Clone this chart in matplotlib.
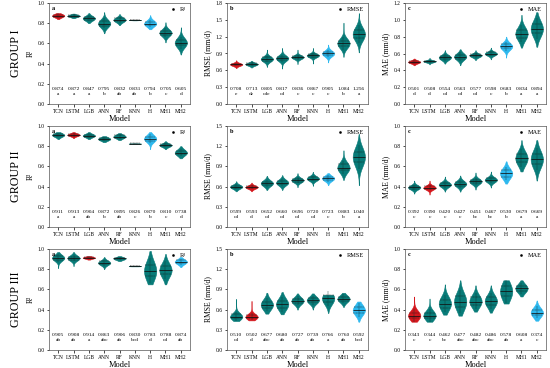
import numpy as np
import matplotlib.pyplot as plt
from matplotlib.lines import Line2D
from matplotlib.transforms import blended_transform_factory

plt.rcParams["font.family"] = ["Liberation Serif", "DejaVu Serif"]

MODELS = ["TCN", "LSTM", "LGB", "ANN", "RF", "KNN", "H", "MH1", "MH2"]
GROUPS = ["GROUP I", "GROUP II", "GROUP III"]

# Violin outline per model: (low tip, q1, median, q3, high tip)
R2_G1 = [(0.84, 0.865, 0.875, 0.885, 0.90), (0.85, 0.866, 0.873, 0.880, 0.895),
         (0.80, 0.835, 0.848, 0.862, 0.90), (0.70, 0.775, 0.797, 0.820, 0.91),
         (0.78, 0.820, 0.833, 0.847, 0.89), (0.828, 0.830, 0.831, 0.832, 0.834),
         (0.74, 0.780, 0.795, 0.815, 0.88), (0.61, 0.685, 0.705, 0.725, 0.81),
         (0.49, 0.580, 0.605, 0.635, 0.76)]
RMSE_G1 = [(0.64, 0.690, 0.705, 0.720, 0.78), (0.65, 0.695, 0.710, 0.725, 0.77),
           (0.66, 0.775, 0.800, 0.830, 0.97), (0.63, 0.785, 0.815, 0.845, 1.00),
           (0.71, 0.815, 0.835, 0.855, 0.97), (0.72, 0.845, 0.865, 0.885, 1.00),
           (0.74, 0.870, 0.900, 0.930, 1.06), (0.84, 1.030, 1.080, 1.130, 1.45),
           (0.92, 1.180, 1.240, 1.320, 1.62)]
MAE_G1 = [(0.46, 0.490, 0.500, 0.510, 0.54), (0.47, 0.500, 0.507, 0.515, 0.55),
          (0.48, 0.535, 0.553, 0.570, 0.64), (0.46, 0.540, 0.562, 0.585, 0.65),
          (0.52, 0.565, 0.577, 0.590, 0.64), (0.53, 0.585, 0.598, 0.612, 0.67),
          (0.55, 0.660, 0.685, 0.710, 0.80), (0.67, 0.790, 0.835, 0.880, 1.06),
          (0.68, 0.840, 0.890, 0.950, 1.09)]
R2_G2 = [(0.87, 0.900, 0.911, 0.922, 0.94), (0.88, 0.905, 0.913, 0.921, 0.94),
         (0.87, 0.895, 0.905, 0.915, 0.94), (0.84, 0.862, 0.872, 0.882, 0.90),
         (0.86, 0.885, 0.896, 0.907, 0.93), (0.824, 0.825, 0.826, 0.827, 0.828),
         (0.77, 0.855, 0.875, 0.895, 0.94), (0.77, 0.800, 0.810, 0.820, 0.85),
         (0.68, 0.720, 0.735, 0.755, 0.80)]
RMSE_G2 = [(0.53, 0.580, 0.598, 0.615, 0.68), (0.53, 0.578, 0.592, 0.607, 0.66),
           (0.55, 0.625, 0.650, 0.675, 0.76), (0.55, 0.635, 0.660, 0.685, 0.77),
           (0.59, 0.675, 0.695, 0.715, 0.80), (0.61, 0.700, 0.720, 0.740, 0.82),
           (0.62, 0.700, 0.722, 0.745, 0.80), (0.70, 0.840, 0.880, 0.930, 1.14),
           (0.62, 0.960, 1.040, 1.120, 1.38)]
MAE_G2 = [(0.33, 0.380, 0.392, 0.405, 0.46), (0.32, 0.378, 0.390, 0.402, 0.46),
          (0.35, 0.405, 0.420, 0.435, 0.50), (0.35, 0.410, 0.427, 0.445, 0.51),
          (0.37, 0.435, 0.451, 0.467, 0.54), (0.39, 0.452, 0.467, 0.482, 0.55),
          (0.43, 0.500, 0.530, 0.560, 0.65), (0.55, 0.640, 0.679, 0.720, 0.86),
          (0.46, 0.620, 0.669, 0.720, 0.86)]
R2_G3 = [(0.81, 0.895, 0.912, 0.930, 0.97), (0.83, 0.895, 0.910, 0.925, 0.97),
         (0.895, 0.908, 0.914, 0.920, 0.93), (0.80, 0.850, 0.863, 0.877, 0.92),
         (0.88, 0.898, 0.906, 0.914, 0.93), (0.828, 0.829, 0.830, 0.831, 0.832),
         (0.65, 0.730, 0.780, 0.840, 0.98), (0.65, 0.750, 0.790, 0.830, 0.95),
         (0.82, 0.860, 0.874, 0.888, 0.92)]
RMSE_G3 = [(0.43, 0.470, 0.490, 0.530, 0.76), (0.44, 0.470, 0.490, 0.520, 0.73),
           (0.54, 0.630, 0.670, 0.720, 0.85), (0.53, 0.630, 0.680, 0.730, 0.86),
           (0.60, 0.700, 0.730, 0.760, 0.84), (0.60, 0.710, 0.740, 0.770, 0.84),
           (0.55, 0.710, 0.770, 0.810, 0.82), (0.64, 0.730, 0.760, 0.790, 0.85),
           (0.42, 0.550, 0.590, 0.640, 0.72)]
MAE_G3 = [(0.28, 0.315, 0.340, 0.370, 0.53), (0.28, 0.315, 0.340, 0.370, 0.51),
          (0.35, 0.420, 0.460, 0.500, 0.65), (0.34, 0.430, 0.480, 0.530, 0.69),
          (0.38, 0.450, 0.480, 0.520, 0.64), (0.37, 0.450, 0.485, 0.520, 0.64),
          (0.46, 0.530, 0.580, 0.630, 0.69), (0.53, 0.585, 0.610, 0.635, 0.69),
          (0.29, 0.345, 0.370, 0.400, 0.49)]

# Mean values and significance letters printed under each violin
MEAN_R2_G1 = ["0.874", "0.872", "0.847", "0.795", "0.832", "0.831", "0.794", "0.705", "0.605"]
SIG_R2_G1 = ["a", "a", "a", "b", "ab", "ab", "b", "c", "d"]
MEAN_RMSE_G1 = ["0.708", "0.713", "0.805", "0.817", "0.836", "0.867", "0.905", "1.084", "1.256"]
SIG_RMSE_G1 = ["e", "de", "cde", "cd", "c", "c", "c", "b", "a"]
MEAN_MAE_G1 = ["0.501", "0.508", "0.554", "0.563", "0.577", "0.598", "0.683", "0.834", "0.894"]
SIG_MAE_G1 = ["d", "d", "cd", "cd", "cd", "c", "b", "a", "a"]
MEAN_R2_G2 = ["0.911", "0.913", "0.904", "0.872", "0.895", "0.826", "0.870", "0.810", "0.738"]
SIG_R2_G2 = ["a", "a", "ab", "b", "ab", "c", "b", "c", "d"]
MEAN_RMSE_G2 = ["0.599", "0.593", "0.652", "0.660", "0.696", "0.720", "0.723", "0.883", "1.040"]
SIG_RMSE_G2 = ["cd", "d", "cd", "cd", "cd", "cd", "c", "b", "a"]
MEAN_MAE_G2 = ["0.392", "0.390", "0.420", "0.427", "0.451", "0.467", "0.530", "0.679", "0.669"]
SIG_MAE_G2 = ["c", "c", "c", "c", "bc", "bc", "b", "a", "a"]
MEAN_R2_G3 = ["0.905", "0.908", "0.914", "0.863", "0.906", "0.830", "0.783", "0.788", "0.874"]
SIG_R2_G3 = ["ab", "ab", "a", "abc", "ab", "bcd", "d", "cd", "ab"]
MEAN_RMSE_G3 = ["0.510", "0.502", "0.677", "0.680", "0.727", "0.739", "0.766", "0.760", "0.592"]
SIG_RMSE_G3 = ["cd", "d", "abc", "ab", "ab", "ab", "a", "ab", "bcd"]
MEAN_MAE_G3 = ["0.343", "0.344", "0.462", "0.477", "0.482", "0.486", "0.578", "0.608", "0.374"]
SIG_MAE_G3 = ["c", "c", "bc", "abc", "abc", "abc", "ab", "a", "c"]

# Best model (red) and highlighted model (light blue) in each panel
BEST = [[0, 0, 0], [1, 1, 1], [2, 1, 0]]
HIGHLIGHT = [6, 6, 8]

TEAL = "#087b78"
RED = "#d4161c"
BLUE = "#2db8ee"


def violin_stats(s):
    lo, q1, med, q3, hi = s
    coords = np.linspace(lo, hi, 150)
    bw = max(0.75 * (q3 - q1), 1e-4)
    vals = np.zeros_like(coords)
    for p in (q1, med, q3):
        vals += np.exp(-0.5 * ((coords - p) / bw) ** 2)
    return dict(coords=coords, vals=vals, mean=med, median=med, min=lo, max=hi)


def draw_panel(ax, stats, means, sigs, ylim, ystep, ylabel, letter, legend, best, hl):
    pos = np.arange(1, len(MODELS) + 1)
    width = 0.8
    vp = [violin_stats(s) for s in stats]
    parts = ax.violin(vp, positions=pos, widths=width, showmeans=False,
                      showextrema=False, showmedians=False)
    for i, body in enumerate(parts["bodies"]):
        c = RED if i == best else (BLUE if i == hl else TEAL)
        body.set_facecolor(c)
        body.set_edgecolor(c)
        body.set_linewidth(0.4)
        body.set_alpha(1)
    for i, (s, v) in enumerate(zip(stats, vp)):
        lo, q1, med, q3, hi = s
        vmax = v["vals"].max()
        ax.vlines(pos[i], q1 - 0.6 * (q3 - q1), q3 + 0.6 * (q3 - q1),
                  color="#0c3533", lw=0.3, zorder=3)
        for q, ls, lw in ((q1, (0, (2, 1)), 0.35), (med, "-", 0.55), (q3, (0, (2, 1)), 0.35)):
            half = 0.5 * width * np.interp(q, v["coords"], v["vals"]) / vmax
            ax.hlines(q, pos[i] - half, pos[i] + half, color="#111111", lw=lw,
                      linestyles=ls, zorder=3)

    tr = blended_transform_factory(ax.transData, ax.transAxes)
    for i in range(len(MODELS)):
        ax.text(pos[i], 0.15, means[i], transform=tr, ha="center", va="center", fontsize=3.9)
        ax.text(pos[i], 0.095, sigs[i], transform=tr, ha="center", va="center", fontsize=3.9)

    ax.set_xlim(0.4, 9.6)
    ax.set_ylim(*ylim)
    ax.set_yticks(np.round(np.arange(ylim[0], ylim[1] + 1e-9, ystep), 2))
    ax.yaxis.set_major_formatter(plt.FormatStrFormatter("%.1f"))
    ax.set_xticks(pos)
    ax.set_xticklabels(MODELS)
    ax.tick_params(labelsize=4.0, length=1.8, width=0.5, pad=1.5)
    ax.set_xlabel("Model", fontsize=6, labelpad=1)
    ax.set_ylabel(ylabel, fontsize=5.5, labelpad=2)
    for sp in ax.spines.values():
        sp.set_linewidth(0.5)
        sp.set_color("#555555")
    ax.text(0.02, 0.97, letter, transform=ax.transAxes, fontsize=4.5,
            fontweight="bold", ha="left", va="top")
    h = Line2D([], [], color="black", lw=0, marker="s", markersize=0.8)
    ax.legend([h], [legend], loc="upper right", fontsize=4.5, frameon=False,
              handlelength=0.6, handletextpad=0.8, borderaxespad=0.2)


fig = plt.figure(figsize=(5.5, 3.68), dpi=100)

panels = [
    [(R2_G1, MEAN_R2_G1, SIG_R2_G1, (0, 1.0), 0.2),
     (RMSE_G1, MEAN_RMSE_G1, SIG_RMSE_G1, (0, 1.8), 0.3),
     (MAE_G1, MEAN_MAE_G1, SIG_MAE_G1, (0, 1.2), 0.2)],
    [(R2_G2, MEAN_R2_G2, SIG_R2_G2, (0, 1.0), 0.2),
     (RMSE_G2, MEAN_RMSE_G2, SIG_RMSE_G2, (0, 1.5), 0.3),
     (MAE_G2, MEAN_MAE_G2, SIG_MAE_G2, (0, 1.0), 0.2)],
    [(R2_G3, MEAN_R2_G3, SIG_R2_G3, (0, 1.0), 0.2),
     (RMSE_G3, MEAN_RMSE_G3, SIG_RMSE_G3, (0, 1.5), 0.3),
     (MAE_G3, MEAN_MAE_G3, SIG_MAE_G3, (0, 1.0), 0.2)],
]
ylabels = ["R²", "RMSE (mm/d)", "MAE (mm/d)"]
legends = ["R²", "RMSE", "MAE"]
letters = ["a", "b", "c"]

W, H = 550, 368
lefts = [49, 227, 405]
tops = [3, 126, 249]
pw, ph = 141, 101

for r in range(3):
    for c in range(3):
        ax = fig.add_axes([lefts[c] / W, 1 - (tops[r] + ph) / H, pw / W, ph / H])
        st, mn, sg, yl, step = panels[r][c]
        draw_panel(ax, st, mn, sg, yl, step, ylabels[c], letters[c], legends[c],
                   BEST[r][c], HIGHLIGHT[r])
    fig.text(16 / W, 1 - (tops[r] + ph / 2) / H, GROUPS[r], rotation=90,
             ha="center", va="center", fontsize=8.7)

fig.savefig("out.png", dpi=100)
